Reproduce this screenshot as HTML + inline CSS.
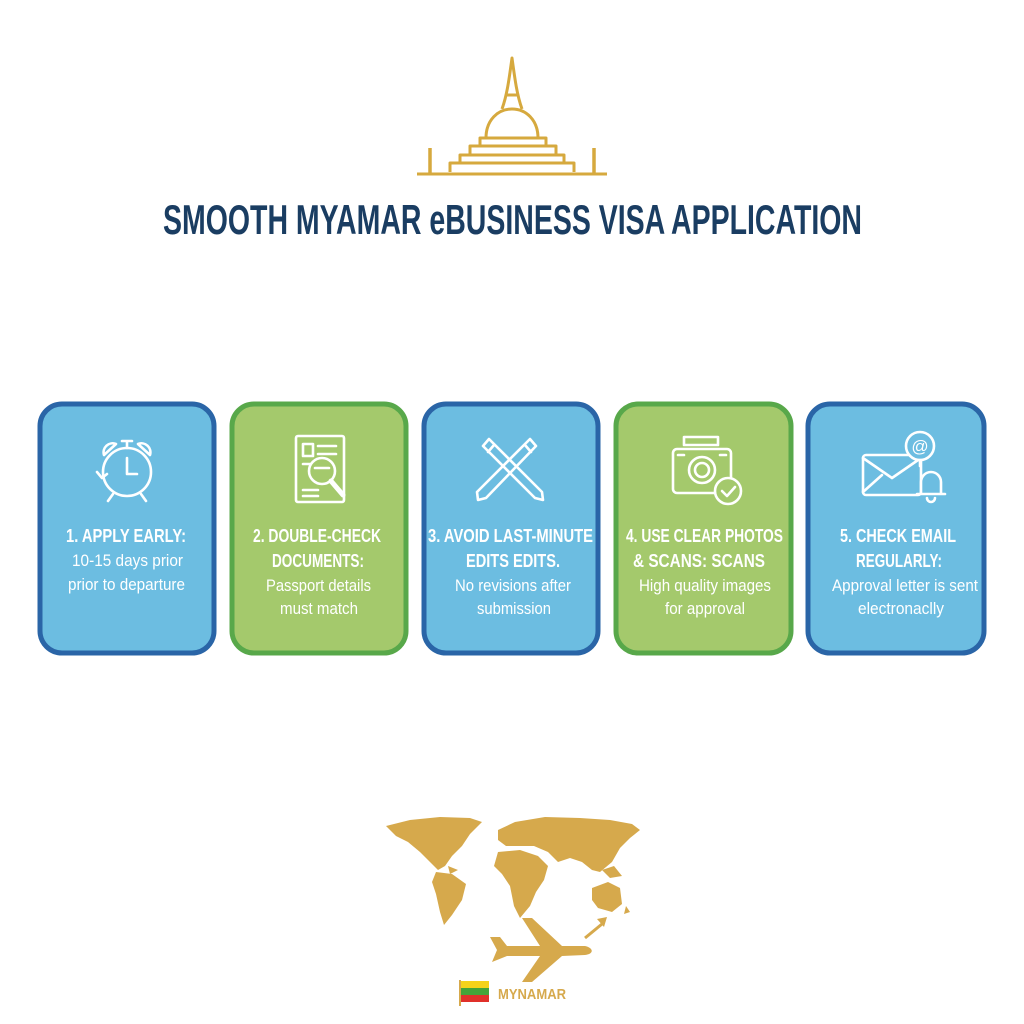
<!DOCTYPE html>
<html><head><meta charset="utf-8"><style>html,body{margin:0;padding:0;background:#fff}svg{display:block}</style></head>
<body>
<svg width="1024" height="1024" viewBox="0 0 1024 1024" xmlns="http://www.w3.org/2000/svg">
<rect width="1024" height="1024" fill="#fff"/>
<g fill="none" stroke="#d6a93e" stroke-width="3" stroke-linejoin="round">
<path d="M417 174 H607"/>
<path d="M430 174 V148 M594 174 V148" stroke-width="3.5"/>
<path d="M450 172 V163 H574 V172"/>
<path d="M460 163 V155 H564 V163"/>
<path d="M470 155 V146 H556 V155"/>
<path d="M480 146 V138 H546 V146"/>
<path d="M486 138 C486 120 498 109 512 109 C526 109 538 120 538 138"/>
<path d="M502 109 C507 95 509 80 512 58 C515 80 517 95 522 109"/>
<path d="M507 95 H517"/>
</g>
<text x="163" y="234" font-family="Liberation Sans, sans-serif" font-weight="bold" font-size="42" fill="#1a3d62" textLength="699" lengthAdjust="spacingAndGlyphs">SMOOTH MYAMAR eBUSINESS VISA APPLICATION</text>
<g stroke-width="5">
<rect x="40" y="404" width="174" height="249" rx="22" fill="#6cbde1" stroke="#2a65a7"/>
<rect x="232" y="404" width="174" height="249" rx="22" fill="#a4c96c" stroke="#58a84a"/>
<rect x="424" y="404" width="174" height="249" rx="22" fill="#6cbde1" stroke="#2a65a7"/>
<rect x="616" y="404" width="175" height="249" rx="22" fill="#a4c96c" stroke="#58a84a"/>
<rect x="808" y="404" width="176" height="249" rx="22" fill="#6cbde1" stroke="#2a65a7"/>
</g>
<g fill="none" stroke="#fff" stroke-width="2.6" stroke-linecap="round" stroke-linejoin="round">
<circle cx="127" cy="472" r="24"/>
<path d="M127 458 V474 H137"/>
<path d="M104 455 A9 9 0 0 1 116 444 Z M150 455 A9 9 0 0 0 138 444 Z"/>
<path d="M122 441 H132 M127 441 V448"/>
<path d="M113 494 L108 501 M141 494 L146 501"/>
<path d="M102 478 L97 472 M102 478 L107 474"/>
<rect x="296" y="436" width="48" height="66" rx="2"/>
<rect x="303" y="444" width="10" height="12"/>
<path d="M318 446 H336 M318 454 H336 M303 464 H310 M303 490 H318 M303 496 H318"/>
<circle cx="322" cy="471" r="13"/>
<path d="M315 468 H329"/>
<path d="M331 481 L343 495" stroke-width="5"/>
<path d="M483 446 L489 439 L542 492 L543 500 L535 498 Z M488 452 L494 445"/>
<path d="M536 446 L530 439 L477 492 L478 500 L486 498 Z M531 452 L525 445"/>
<rect x="684" y="437" width="34" height="8"/>
<rect x="673" y="449" width="58" height="44" rx="4"/>
<circle cx="702" cy="470" r="13"/><circle cx="702" cy="470" r="7"/>
<path d="M678 455 H684 M720 455 H726"/>
<circle cx="728" cy="491" r="13" fill="#a4c96c"/>
<path d="M722 491 L727 496 L735 487"/>
<rect x="863" y="455" width="58" height="40" rx="3"/>
<path d="M863 458 L892 478 L921 458 M863 492 L882 475"/>
<circle cx="920" cy="446" r="14" fill="#6cbde1"/>
<text x="920" y="452" font-family="Liberation Sans, sans-serif" font-size="17" fill="#fff" stroke="none" text-anchor="middle">@</text>
<path d="M920 460 V466"/>
<path d="M921 494 V482 A10 10 0 0 1 941 482 V494 H917 Z M945 494 H917" fill="#6cbde1"/>
<path d="M927 498 A4 4 0 0 0 935 498"/>
</g>
<g font-family="Liberation Sans, sans-serif" fill="#fff">
<g font-weight="bold" font-size="18">
<text x="66" y="542" textLength="120" lengthAdjust="spacingAndGlyphs">1. APPLY EARLY:</text>
<text x="253" y="542" textLength="128" lengthAdjust="spacingAndGlyphs">2. DOUBLE-CHECK</text>
<text x="272" y="567" textLength="92" lengthAdjust="spacingAndGlyphs">DOCUMENTS:</text>
<text x="428" y="542" textLength="165" lengthAdjust="spacingAndGlyphs">3. AVOID LAST-MINUTE</text>
<text x="466" y="567" textLength="94" lengthAdjust="spacingAndGlyphs">EDITS EDITS.</text>
<text x="626" y="542" textLength="157" lengthAdjust="spacingAndGlyphs">4. USE CLEAR PHOTOS</text>
<text x="633" y="567" textLength="132" lengthAdjust="spacingAndGlyphs">&amp; SCANS: SCANS</text>
<text x="840" y="542" textLength="116" lengthAdjust="spacingAndGlyphs">5. CHECK EMAIL</text>
<text x="856" y="567" textLength="86" lengthAdjust="spacingAndGlyphs">REGULARLY:</text>
</g>
<g font-size="17">
<text x="72" y="566" textLength="111" lengthAdjust="spacingAndGlyphs">10-15 days prior</text>
<text x="68" y="590" textLength="117" lengthAdjust="spacingAndGlyphs">prior to departure</text>
<text x="266" y="591" textLength="105" lengthAdjust="spacingAndGlyphs">Passport details</text>
<text x="280" y="614" textLength="78" lengthAdjust="spacingAndGlyphs">must match</text>
<text x="455" y="591" textLength="116" lengthAdjust="spacingAndGlyphs">No revisions after</text>
<text x="477" y="614" textLength="74" lengthAdjust="spacingAndGlyphs">submission</text>
<text x="639" y="591" textLength="132" lengthAdjust="spacingAndGlyphs">High quality images</text>
<text x="665" y="614" textLength="80" lengthAdjust="spacingAndGlyphs">for approval</text>
<text x="832" y="591" textLength="146" lengthAdjust="spacingAndGlyphs">Approval letter is sent</text>
<text x="858" y="614" textLength="86" lengthAdjust="spacingAndGlyphs">electronaclly</text>
</g>
</g>
<g fill="#d6a94c">
<path d="M386 826 L410 820 L440 817 L470 818 L482 822 L470 834 L462 846 L452 856 L445 866 L438 870 L430 862 L420 852 L408 842 L396 836 Z"/>
<path d="M448 866 L458 870 L450 874 Z"/>
<path d="M436 872 L452 874 L466 884 L462 900 L452 915 L444 925 L440 912 L436 894 L432 882 Z"/>
<path d="M498 830 L515 822 L545 817 L580 818 L610 820 L632 824 L640 830 L630 838 L620 848 L612 862 L600 872 L592 870 L582 862 L570 858 L558 862 L548 852 L534 846 L520 846 L506 846 L498 840 Z"/>
<path d="M498 852 L520 850 L538 856 L548 866 L544 880 L536 892 L530 906 L520 918 L514 906 L510 886 L502 874 L494 866 Z"/>
<path d="M592 888 L608 882 L620 888 L622 904 L612 912 L598 908 L592 900 Z"/>
<path d="M602 870 L614 866 L622 876 L610 878 Z M626 906 L630 912 L624 914 Z"/>
</g>
<path d="M490 937 L500 937 L507 946 L540 946 L522 918 L532 918 L562 946 L585 946 C594 948 594 954 585 955 L562 956 L532 982 L522 982 L540 956 L507 956 L492 962 L497 950 Z" fill="#d6a94c"/>
<path d="M585 938 L602 924" fill="none" stroke="#d6a94c" stroke-width="3"/>
<path d="M597 919 L607 917 L604 927 Z" fill="#d6a94c"/>
<rect x="459" y="980" width="2" height="26" fill="#d6a94c"/>
<rect x="461" y="981" width="28" height="7" fill="#f5d21a"/>
<rect x="461" y="988" width="28" height="7" fill="#44a339"/>
<rect x="461" y="995" width="28" height="7" fill="#e0302a"/>
<text x="498" y="999" font-family="Liberation Sans, sans-serif" font-weight="bold" font-size="15" fill="#d6a94c" textLength="68" lengthAdjust="spacingAndGlyphs">MYNAMAR</text>
</svg>
</body></html>
